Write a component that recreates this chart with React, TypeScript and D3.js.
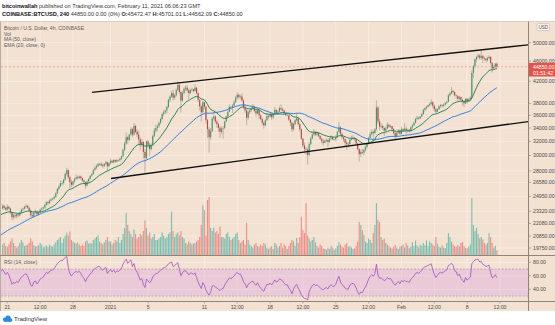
import React from 'react';
import * as d3 from 'd3';

// ---------- DATA (prices in thousands USD, 4h candles) ----------
// closes before the first drawn candle (Dec 12 04:00 -> Dec 20 08:00), used only for MA/EMA/RSI warm-up
const preCloses = [
  18.2, 18.4, 18.6, 18.7, 18.8,
  19.0, 19.1, 19.0, 19.2, 19.3, 19.2,
  19.1, 19.2, 19.3, 19.2, 19.3, 19.3,
  19.4, 19.3, 19.2, 19.4, 19.5, 19.4,
  19.6, 19.5, 19.8, 20.3, 20.9, 21.3,
  22.0, 22.8, 23.1, 22.6, 23.0, 22.8,
  22.6, 22.8, 22.5, 22.9, 23.0, 23.1,
  23.4, 23.5, 23.9, 24.0, 23.6, 23.8,
  23.7, 23.9, 23.6,
];

// first drawn candle: 2020-12-20 12:00 UTC
const closes = [
  23.9, 23.7, 23.5,
  23.8, 23.6, 23.2, 22.7, 22.9, 22.8,
  23.0, 22.9, 23.2, 23.5, 23.6, 23.8,
  23.9, 23.7, 23.4, 22.9, 22.8, 23.2,
  23.3, 23.0, 23.2, 23.5, 23.6, 23.7,
  24.0, 24.3, 24.2, 24.5, 24.6, 24.7,
  24.9, 25.3, 25.8, 26.1, 26.5, 26.5,
  26.9, 27.6, 28.1, 27.2, 26.6, 26.3,
  26.7, 27.0, 27.2, 27.1, 27.3, 27.1,
  26.8, 26.6, 26.2, 26.7, 27.0, 27.4,
  27.6, 28.1, 28.4, 28.6, 28.9, 28.9,
  28.7, 28.6, 28.9, 29.1, 28.6, 29.0,
  29.3, 29.1, 29.4, 29.2, 29.4, 29.4,
  29.6, 29.9, 30.8, 31.7, 32.6, 32.2,
  33.0, 33.8, 33.0, 34.3, 33.4, 33.0,
  32.3, 31.5, 31.9, 30.5, 29.7, 32.0,
  31.5, 30.9, 31.5, 32.8, 33.6, 34.0,
  34.3, 34.8, 35.4, 36.2, 36.5, 36.8,
  37.4, 38.6, 39.2, 39.8, 39.0, 39.4,
  40.4, 41.3, 40.0, 38.5, 39.8, 40.6,
  40.8, 40.3, 39.8, 40.4, 40.5, 40.2,
  40.8, 39.8, 38.6, 37.5, 36.5, 38.2,
  37.4, 35.2, 33.8, 32.6, 33.5, 35.5,
  35.8, 35.0, 34.6, 34.0, 33.4, 33.9,
  34.0, 35.0, 35.8, 36.6, 37.4, 37.3,
  37.6, 38.2, 39.0, 39.5, 39.1, 39.2,
  38.5, 37.4, 36.8, 35.6, 36.5, 36.8,
  37.2, 37.4, 36.7, 36.3, 36.9, 36.0,
  35.4, 34.8, 34.4, 35.2, 35.9, 35.8,
  36.2, 35.7, 36.2, 36.9, 36.4, 36.6,
  37.2, 37.0, 36.8, 36.3, 36.0, 36.0,
  35.3, 34.8, 33.8, 34.6, 35.2, 35.5,
  34.6, 33.8, 32.4, 31.4, 30.9, 30.8,
  30.1, 31.6, 32.4, 33.0, 33.4, 33.0,
  33.2, 32.8, 32.4, 32.0, 31.8, 32.1,
  32.2, 31.9, 32.4, 32.6, 32.3, 32.3,
  32.6, 33.4, 34.1, 33.1, 32.6, 32.3,
  31.8, 31.6, 31.6, 32.2, 32.4, 32.5,
  32.3, 31.7, 30.9, 30.2, 30.5, 30.4,
  30.8, 31.2, 31.7, 32.5, 33.1, 33.4,
  33.2, 33.8, 37.3, 35.0, 34.2, 34.3,
  34.0, 33.6, 33.9, 34.5, 34.2, 34.3,
  33.8, 33.2, 32.8, 33.3, 33.6, 33.1,
  33.8, 33.6, 33.9, 33.6, 33.7, 33.5,
  34.1, 34.4, 34.8, 35.4, 35.6, 35.5,
  35.8, 36.2, 36.9, 37.2, 37.4, 37.7,
  37.9, 38.2, 37.6, 37.0, 36.6, 37.0,
  37.5, 37.7, 37.6, 37.8, 38.1, 38.3,
  39.4, 39.8, 40.2, 40.0, 39.4, 39.3,
  38.8, 39.1, 38.6, 38.3, 38.0, 38.8,
  38.4, 38.7, 39.0, 43.6, 45.0, 46.4,
  46.9, 47.2, 46.7, 47.1, 46.6, 46.5,
  46.2, 46.6, 46.9, 45.6, 44.5, 44.8,
  45.47247, 44.85,
];

const highs = [
  24.1, 24.0, 23.8,
  24.1, 23.9, 23.7, 23.3, 23.1, 23.0,
  23.1, 23.1, 23.3, 23.6, 23.7, 23.9,
  24.1, 24.0, 23.8, 23.5, 23.1, 23.3,
  23.5, 23.4, 23.3, 23.6, 23.8, 23.8,
  24.1, 24.4, 24.4, 24.6, 24.8, 24.8,
  25.0, 25.4, 25.9, 26.3, 26.8, 26.7,
  27.0, 27.8, 28.4, 28.2, 27.4, 26.9,
  26.8, 27.1, 27.5, 27.4, 27.4, 27.4,
  27.2, 26.9, 26.7, 26.8, 27.1, 27.4,
  27.7, 28.2, 28.6, 28.8, 29.0, 29.0,
  29.1, 28.9, 29.0, 29.3, 29.2, 29.1,
  29.6, 29.4, 29.5, 29.5, 29.5, 29.5,
  29.7, 30.0, 31.0, 32.0, 33.3, 32.8,
  33.1, 34.1, 34.0, 34.8, 34.5, 33.8,
  33.6, 32.6, 32.3, 32.1, 30.9, 32.1,
  32.2, 31.8, 31.7, 33.0, 34.0, 34.5,
  34.5, 35.0, 35.6, 36.4, 36.9, 36.9,
  37.6, 38.8, 39.4, 40.2, 40.4, 39.6,
  40.6, 42.0, 41.7, 40.2, 40.1, 40.9,
  41.2, 41.3, 40.6, 40.6, 40.8, 40.6,
  41.4, 40.9, 39.9, 38.8, 37.8, 38.4,
  38.3, 37.6, 35.4, 34.2, 34.0, 35.7,
  36.6, 36.0, 35.3, 34.8, 34.3, 34.2,
  34.3, 35.1, 36.0, 36.8, 37.8, 37.6,
  37.9, 38.5, 39.3, 40.0, 39.7, 39.5,
  39.7, 38.8, 37.8, 37.0, 36.8, 37.0,
  37.5, 37.9, 37.6, 36.9, 37.2, 37.0,
  36.2, 35.6, 35.0, 35.4, 36.4, 36.1,
  36.5, 36.4, 36.3, 37.4, 37.0, 36.8,
  37.5, 37.8, 37.3, 36.9, 36.4, 36.3,
  36.1, 35.4, 35.0, 34.8, 35.4, 36.4,
  35.6, 34.8, 33.9, 32.5, 31.8, 31.2,
  31.1, 31.9, 32.7, 33.2, 33.8, 33.5,
  33.5, 33.3, 32.9, 32.5, 32.3, 32.3,
  32.5, 32.3, 32.5, 32.9, 32.7, 32.4,
  32.9, 33.6, 34.9, 34.3, 33.3, 32.7,
  32.4, 32.1, 31.9, 32.4, 32.8, 32.9,
  32.6, 32.4, 31.8, 31.0, 30.8, 30.9,
  31.0, 31.4, 31.8, 32.7, 33.4, 33.8,
  33.6, 34.0, 38.5, 37.5, 35.4, 34.8,
  34.5, 34.1, 34.2, 34.9, 34.6, 34.5,
  34.3, 34.0, 33.4, 33.4, 33.8, 33.8,
  34.2, 34.0, 34.7, 34.2, 33.9, 33.9,
  34.2, 34.6, 35.0, 35.6, 35.9, 35.8,
  35.9, 36.4, 37.1, 37.4, 37.6, 37.8,
  38.1, 38.7, 38.4, 37.8, 37.2, 37.2,
  37.7, 37.9, 37.9, 38.0, 38.2, 38.4,
  39.6, 40.0, 40.9, 40.4, 40.1, 39.6,
  39.4, 39.3, 39.2, 38.8, 38.5, 38.9,
  38.9, 38.9, 39.2, 44.2, 45.2, 46.6,
  47.1, 47.6, 47.4, 48.2, 47.3, 46.9,
  46.7, 47.0, 47.3, 47.0, 45.8, 45.1,
  45.6, 45.70101,
];

const lows = [
  23.5, 23.5, 23.3,
  23.4, 23.5, 23.0, 22.4, 22.5, 22.6,
  22.6, 22.7, 22.8, 23.1, 23.3, 23.5,
  23.6, 23.6, 23.2, 22.7, 22.6, 22.7,
  23.1, 22.9, 22.9, 23.1, 23.4, 23.5,
  23.6, 23.9, 24.0, 24.1, 24.4, 24.5,
  24.6, 24.8, 25.2, 25.6, 26.0, 26.2,
  26.3, 26.8, 27.4, 27.0, 25.9, 26.0,
  26.1, 26.5, 26.9, 26.9, 27.0, 26.9,
  26.6, 26.4, 25.8, 26.1, 26.5, 26.9,
  27.3, 27.5, 28.0, 28.2, 28.5, 28.7,
  28.6, 28.4, 28.5, 28.8, 28.0, 28.5,
  28.8, 29.0, 29.0, 29.0, 29.1, 29.2,
  29.2, 29.4, 29.8, 30.6, 31.5, 31.6,
  32.0, 32.8, 32.6, 32.8, 33.2, 32.6,
  31.5, 30.8, 31.2, 29.6, 27.7, 29.5,
  31.0, 29.9, 30.7, 31.3, 32.6, 33.3,
  33.5, 34.0, 34.6, 35.2, 35.9, 36.2,
  36.3, 37.2, 38.2, 39.0, 38.5, 38.6,
  39.2, 40.2, 39.6, 36.5, 38.3, 39.6,
  40.2, 39.9, 38.7, 39.6, 40.1, 39.9,
  40.1, 39.6, 38.2, 36.8, 35.0, 36.3,
  37.0, 34.6, 32.5, 30.4, 32.2, 33.4,
  35.2, 34.7, 34.0, 33.4, 32.5, 33.1,
  32.4, 33.8, 34.9, 35.7, 36.5, 36.9,
  36.4, 37.4, 38.1, 38.6, 38.8, 38.7,
  38.3, 37.1, 36.4, 34.4, 35.3, 36.2,
  36.6, 37.0, 36.5, 35.8, 36.2, 35.4,
  35.2, 34.4, 33.9, 34.3, 35.1, 35.4,
  35.6, 35.2, 35.4, 36.1, 36.3, 36.2,
  36.5, 36.7, 36.6, 36.1, 35.9, 35.9,
  35.1, 34.3, 33.4, 33.6, 34.4, 35.0,
  34.4, 33.5, 32.2, 31.1, 30.3, 30.1,
  28.8, 29.9, 31.4, 32.3, 32.8, 32.8,
  32.7, 32.6, 32.2, 31.7, 31.4, 31.7,
  31.9, 31.2, 31.8, 32.2, 32.1, 32.1,
  32.0, 32.5, 33.3, 32.9, 32.4, 31.9,
  31.2, 30.8, 31.1, 31.4, 32.1, 32.2,
  32.1, 31.6, 30.7, 29.2, 29.8, 30.2,
  30.0, 30.6, 31.0, 31.5, 32.4, 32.9,
  31.9, 33.1, 33.6, 34.6, 33.6, 33.9,
  33.7, 32.8, 33.4, 33.8, 34.0, 34.0,
  33.6, 33.0, 32.2, 32.6, 33.1, 33.0,
  33.0, 33.4, 33.5, 33.1, 33.3, 33.3,
  33.4, 33.9, 34.3, 34.7, 35.2, 35.3,
  35.4, 35.7, 36.1, 36.6, 36.9, 37.3,
  37.5, 37.6, 37.2, 36.6, 36.2, 36.5,
  36.9, 37.3, 37.3, 37.4, 37.6, 37.9,
  38.2, 39.2, 39.6, 39.6, 39.2, 38.8,
  38.4, 38.6, 38.4, 37.6, 37.4, 37.9,
  37.9, 38.2, 38.6, 38.9, 42.6, 44.5,
  45.8, 46.5, 46.3, 46.3, 45.6, 46.1,
  45.7, 45.9, 46.4, 45.3, 43.7, 44.3,
  44.7, 44.56209,
];

// volume, thousands of BTC
const volumes = [
  3.5, 4.0, 3.0,
  2.8, 3.5, 4.5, 5.5, 4.0, 3.0,
  2.5, 3.0, 4.0, 5.0, 4.2, 3.0,
  3.2, 3.5, 4.0, 5.5, 4.5, 3.2,
  2.8, 3.0, 3.2, 4.0, 3.5, 2.6,
  2.8, 3.2, 2.6, 3.5, 3.0, 2.8,
  3.5, 4.2, 5.0, 5.5, 6.0, 4.0,
  5.5, 6.5, 7.5, 6.5, 7.8, 5.0,
  4.5, 4.0, 3.8, 4.2, 3.5, 3.0,
  3.5, 3.0, 4.5, 4.8, 3.8, 4.0,
  3.8, 5.0, 5.5, 6.0, 6.5, 4.5,
  4.0, 3.5, 4.2, 5.0, 6.0, 4.5,
  4.5, 3.5, 4.0, 5.0, 4.5, 6.0,
  4.0, 5.0, 7.0, 9.0, 14.0, 10.0,
  8.0, 7.0, 6.0, 8.5, 7.0, 5.5,
  6.0, 7.0, 6.5, 8.0, 11.5, 9.0,
  6.5, 7.5, 5.5, 6.0, 7.0, 5.0,
  5.0, 5.5, 6.0, 7.5, 6.5, 5.5,
  6.0, 7.0, 7.5, 14.5, 8.0, 6.0,
  7.0, 7.5, 6.5, 8.0, 6.0, 5.5,
  4.0, 3.5, 4.5, 4.0, 3.5, 3.8,
  4.0, 4.5, 5.0, 6.0, 10.0, 16.5,
  15.0, 6.5, 18.3, 19.3, 9.0, 8.0,
  9.0, 7.5, 8.0, 7.0, 9.5, 6.0,
  6.0, 5.5, 7.0, 7.5, 6.0, 5.0,
  5.5, 6.0, 7.0, 7.5, 5.0, 4.0,
  4.5, 5.0, 3.5, 10.7, 5.0, 3.5,
  3.0, 2.5, 3.5, 4.0, 3.0, 2.8,
  3.5, 3.0, 4.0, 3.5, 2.5, 2.0,
  2.5, 3.0, 2.0, 4.0, 3.5, 2.5,
  3.0, 4.0, 2.5, 3.5, 3.0, 2.0,
  3.0, 4.0, 5.0, 4.5, 3.0, 5.7,
  4.0, 6.0, 12.7, 8.3, 7.3, 17.3,
  6.5, 5.5, 4.5, 5.0, 6.0, 4.3,
  3.0, 2.5, 3.5, 3.0, 2.2, 2.0,
  1.8, 2.5, 2.0, 3.0, 2.5, 1.7,
  2.2, 3.0, 4.2, 3.5, 2.8, 2.5,
  3.5, 4.0, 2.8, 3.0, 2.5, 2.0,
  2.2, 3.0, 4.5, 11.0, 10.0, 8.3,
  6.7, 4.5, 4.0, 5.5, 5.0, 4.0,
  7.3, 10.0, 17.3, 11.7, 11.0, 6.0,
  5.0, 5.5, 4.0, 3.5, 3.0, 2.5,
  2.2, 2.8, 3.3, 2.5, 2.0, 2.8,
  3.0, 3.5, 2.5, 4.0, 3.2, 2.3,
  2.8, 4.2, 3.0, 4.8, 3.2, 2.5,
  3.5, 3.0, 4.0, 3.3, 4.8, 3.0,
  4.5, 4.0, 3.5, 3.0, 6.0, 3.8,
  2.7, 2.5, 3.2, 2.5, 2.3, 4.0,
  7.3, 6.0, 4.5, 3.5, 3.0, 2.8,
  3.3, 2.8, 4.0, 4.3, 3.0, 2.4,
  2.2, 2.8, 3.5, 19.0, 10.0, 8.0,
  9.0, 7.0, 5.5, 6.0, 5.2, 4.0,
  3.5, 4.0, 7.3, 6.0, 4.0, 2.5,
  3.0, 1.5,
];

const priceTicks = [50000, 46000, 42000, 38000, 36000, 34000, 32000, 30000, 28000, 26580, 24950, 23320, 22080, 20850, 19750];
const rsiTicks = [80, 60, 40];
const timeTickDates = [
  '2020-12-21T00:00:00Z', '2020-12-24T12:00:00Z', '2020-12-28T00:00:00Z', '2021-01-01T00:00:00Z',
  '2021-01-05T00:00:00Z', '2021-01-11T00:00:00Z', '2021-01-14T12:00:00Z', '2021-01-18T00:00:00Z',
  '2021-01-21T12:00:00Z', '2021-01-25T00:00:00Z', '2021-01-28T12:00:00Z', '2021-02-01T00:00:00Z',
  '2021-02-04T12:00:00Z', '2021-02-08T00:00:00Z', '2021-02-11T12:00:00Z',
];
const timeTickLabels = ['21', '12:00', '28', '2021', '5', '11', '12:00', '18', '12:00', '25', '12:00', 'Feb', '12:00', '8', '12:00'];

const upperLineDates = ['2020-12-30T00:30:00Z', '2021-02-14T12:00:00Z'];
const upperLinePrices = [39950, 49530];
const lowerLineDates = ['2021-01-01T01:00:00Z', '2021-02-14T12:00:00Z'];
const lowerLinePrices = [27050, 35000];

const lastPrice = 44850;

// ---------- STYLE ----------
const BG = '#f3e1d2';
const FONT = '"Liberation Sans", Arial, sans-serif';
const UP = '#3a9a68';
const DOWN = '#b9443a';
const WICK = '#8f8a86';
const AXIS = '#8c8580';
const TXT = '#4d4d4d';

const H4 = 4 * 3600 * 1000;
const T0 = Date.UTC(2020, 11, 20, 12);

export default function App() {
  const x = d3.scaleUtc()
    .domain([new Date(Date.UTC(2020, 11, 21)), new Date(Date.UTC(2021, 1, 11, 12))])
    .range([7.3, 500]);
  const y = d3.scaleLog().domain([19750, 50000]).range([248, 42.7]);
  const yVol = d3.scaleLinear().domain([0, 20]).range([255, 195]);
  const yRsi = d3.scaleLinear().domain([40, 80]).range([289.3, 262.3]);

  const nPre = preCloses.length;
  const all = [...preCloses, ...closes];
  const tOf = (k: number) => new Date(T0 + (k - nPre) * H4);

  const candles = closes.map((c, i) => ({
    t: new Date(T0 + i * H4),
    o: i === 0 ? preCloses[nPre - 1] : closes[i - 1],
    h: highs[i], l: lows[i], c, v: volumes[i],
  }));

  // MA 50
  const sma = all.map((_, k) => (k >= 49 ? (d3.mean(all.slice(k - 49, k + 1)) as number) : null));
  // EMA 20
  const ema: (number | null)[] = [];
  let e = 0;
  all.forEach((c, k) => {
    if (k < 19) { ema.push(null); return; }
    if (k === 19) e = d3.mean(all.slice(0, 20)) as number;
    else e = e + (c - e) * (2 / 21);
    ema.push(e);
  });
  // RSI 14 (Wilder)
  const rsi: (number | null)[] = [null];
  let ag = 0, al = 0;
  for (let k = 1; k < all.length; k++) {
    const d = all[k] - all[k - 1];
    const g = Math.max(d, 0), l = Math.max(-d, 0);
    if (k <= 14) {
      ag += g / 14; al += l / 14;
      rsi.push(k === 14 ? 100 - 100 / (1 + ag / al) : null);
    } else {
      ag = (ag * 13 + g) / 14; al = (al * 13 + l) / 14;
      rsi.push(al === 0 ? 100 : 100 - 100 / (1 + ag / al));
    }
  }

  const startK = nPre - 1;
  const mkLine = (arr: (number | null)[], yf: (v: number) => number) => {
    const pts: [number, number][] = [];
    for (let k = startK; k < arr.length; k++) {
      const v = arr[k];
      if (v != null) pts.push([x(tOf(k)), yf(v)]);
    }
    return d3.line()(pts) || '';
  };
  const maPath = mkLine(sma, (v) => y(v * 1000));
  const emaPath = mkLine(ema, (v) => y(v * 1000));
  const rsiPath = mkLine(rsi, (v) => yRsi(v));

  const trend = (dates: string[], prices: number[]) =>
    d3.line()(dates.map((d, i) => [x(new Date(d)), y(prices[i])] as [number, number])) || '';

  const bw = 1.1;
  const AX = 528.5;
  const yLast = y(lastPrice);

  return (
    <svg width={555} height={325} style={{ position: 'absolute', left: 0, top: 0, fontFamily: FONT }}>
      <defs>
        <clipPath id="pp"><rect x={1} y={22} width={527} height={233} /></clipPath>
        <clipPath id="rp"><rect x={1} y={256} width={527} height={45} /></clipPath>
      </defs>
      <rect width={555} height={325} fill="#ffffff" />

      {/* header */}
      <text x={2} y={8.3} fontSize={5.6} fill="#333">
        <tspan fontWeight="bold" fill="#111">bitcoinwallah</tspan>
        <tspan> published on TradingView.com, February 11, 2021 06:06:23 GMT</tspan>
      </text>
      <text x={2} y={16.4} fontSize={5.6} fill="#333">
        <tspan fontWeight="bold" fill="#111">COINBASE:BTCUSD, 240</tspan>
        <tspan> 44850.00 0.00 (0%) </tspan>
        <tspan fontWeight="bold">O:</tspan><tspan>45472.47 </tspan>
        <tspan fontWeight="bold">H:</tspan><tspan>45701.01 </tspan>
        <tspan fontWeight="bold">L:</tspan><tspan>44562.09 </tspan>
        <tspan fontWeight="bold">C:</tspan><tspan>44850.00</tspan>
      </text>

      {/* chart background */}
      <rect x={0} y={21.5} width={555} height={289.5} fill={BG} />
      <line x1={0} x2={555} y1={21.5} y2={21.5} stroke="#d6c6b8" strokeWidth={0.8} />
      <line x1={0.5} x2={0.5} y1={21.5} y2={311} stroke="#b9aca2" strokeWidth={1} />

      {/* grid */}
      <g stroke="#f9efe6" strokeWidth={0.8}>
        {priceTicks.map((t) => (
          <line key={'hg' + t} x1={1} x2={AX} y1={y(t)} y2={y(t)} />
        ))}
        {rsiTicks.map((t) => (
          <line key={'rg' + t} x1={1} x2={AX} y1={yRsi(t)} y2={yRsi(t)} />
        ))}
        {timeTickDates.map((d) => (
          <line key={'vg' + d} x1={x(new Date(d))} x2={x(new Date(d))} y1={22} y2={301} />
        ))}
      </g>

      {/* price pane */}
      <g clipPath="url(#pp)">
        {candles.map((k, i) => (
          <rect key={'v' + i} x={x(k.t) - bw / 2} width={bw} y={yVol(k.v)} height={255 - yVol(k.v)}
            fill={k.c >= k.o ? 'rgba(38,166,154,0.6)' : 'rgba(239,83,80,0.6)'} />
        ))}
        <line x1={1} x2={AX} y1={yLast} y2={yLast} stroke="#ee9a8c" strokeWidth={0.7} strokeDasharray="2,2" />
        {candles.map((k, i) => {
          const cx = x(k.t);
          return (
            <line key={'w' + i} x1={cx} x2={cx} y1={y(k.h * 1000)} y2={y(k.l * 1000)} stroke={WICK} strokeWidth={0.55} />
          );
        })}
        {candles.map((k, i) => {
          const cx = x(k.t);
          const y1 = y(Math.max(k.o, k.c) * 1000);
          const y2 = y(Math.min(k.o, k.c) * 1000);
          return (
            <rect key={'b' + i} x={cx - bw / 2} width={bw} y={y1} height={Math.max(0.6, y2 - y1)}
              fill={k.c >= k.o ? UP : DOWN} />
          );
        })}
        <path d={maPath} fill="none" stroke="#2f7ee0" strokeWidth={1} />
        <path d={emaPath} fill="none" stroke="#23875a" strokeWidth={1} />
        <path d={trend(upperLineDates, upperLinePrices)} fill="none" stroke="#111" strokeWidth={1.3} />
        <path d={trend(lowerLineDates, lowerLinePrices)} fill="none" stroke="#111" strokeWidth={1.3} />
      </g>

      {/* legend */}
      <g fontSize={5} fill="#5a5a5a">
        <text x={4} y={30}>Bitcoin / U.S. Dollar, 4h, COINBASE</text>
        <text x={4} y={35.6}>Vol</text>
        <text x={4} y={41.2}>MA (50, close)</text>
        <text x={4} y={46.8}>EMA (20, close, 0)</text>
      </g>

      {/* RSI pane */}
      <rect x={1} y={yRsi(70)} width={AX - 1} height={yRsi(30) - yRsi(70)} fill="rgba(200,110,230,0.2)" />
      <line x1={1} x2={AX} y1={yRsi(70)} y2={yRsi(70)} stroke="#9d8aa8" strokeWidth={0.6} strokeDasharray="2,1.5" />
      <line x1={1} x2={AX} y1={yRsi(30)} y2={yRsi(30)} stroke="#9d8aa8" strokeWidth={0.6} strokeDasharray="2,1.5" />
      <g clipPath="url(#rp)">
        <path d={rsiPath} fill="none" stroke="#a04fc2" strokeWidth={0.8} />
      </g>
      <text x={4} y={263.8} fontSize={5} fill="#5a5a5a">RSI (14, close)</text>

      {/* separators and axes */}
      <line x1={0} x2={555} y1={255.5} y2={255.5} stroke={AXIS} strokeWidth={1} />
      <line x1={0} x2={555} y1={301.5} y2={301.5} stroke={AXIS} strokeWidth={1} />
      <line x1={AX} x2={AX} y1={21.5} y2={311} stroke={AXIS} strokeWidth={1} />

      {/* price axis labels */}
      <g fontSize={5.2} fill={TXT}>
        {priceTicks.map((t) => (
          <g key={'pl' + t}>
            <line x1={AX} x2={AX + 2.5} y1={y(t)} y2={y(t)} stroke={AXIS} strokeWidth={0.6} />
            <text x={533} y={y(t)} dy="0.35em">{t.toFixed(2)}</text>
          </g>
        ))}
        {rsiTicks.map((t) => (
          <g key={'rl' + t}>
            <line x1={AX} x2={AX + 2.5} y1={yRsi(t)} y2={yRsi(t)} stroke={AXIS} strokeWidth={0.6} />
            <text x={533} y={yRsi(t)} dy="0.35em">{t.toFixed(2)}</text>
          </g>
        ))}
      </g>

      {/* USD badge */}
      <rect x={537} y={23.6} width={12.5} height={7} rx={1.2} fill="#fbf6f1" stroke="#b5aaa2" strokeWidth={0.5} />
      <text x={543.25} y={27.1} dy="0.35em" fontSize={4.6} fill={TXT} textAnchor="middle">USD</text>

      {/* last price tag */}
      <rect x={529} y={yLast - 3.8} width={26} height={13.6} fill="#e5544a" />
      <text x={533} y={yLast} dy="0.35em" fontSize={5.2} fill="#fff">{lastPrice.toFixed(2)}</text>
      <text x={533} y={yLast + 6.6} dy="0.35em" fontSize={5.2} fill="#fff">01:51:42</text>

      {/* time axis labels */}
      <g fontSize={5.2} fill={TXT} textAnchor="middle">
        {timeTickDates.map((d, i) => (
          <g key={'tl' + d}>
            <line x1={x(new Date(d))} x2={x(new Date(d))} y1={301.5} y2={303.5} stroke={AXIS} strokeWidth={0.6} />
            <text x={x(new Date(d))} y={308.6}>{timeTickLabels[i]}</text>
          </g>
        ))}
      </g>

      {/* logo */}
      <g fill="#2a8ae0">
        <circle cx={5} cy={319.6} r={2.1} />
        <circle cx={8} cy={318.3} r={2.7} />
        <circle cx={10.6} cy={320} r={1.8} />
        <rect x={4.5} y={319.5} width={6.5} height={2.3} />
      </g>
      <text x={14} y={321.2} fontSize={6} fill="#333">TradingView</text>
    </svg>
  );
}
